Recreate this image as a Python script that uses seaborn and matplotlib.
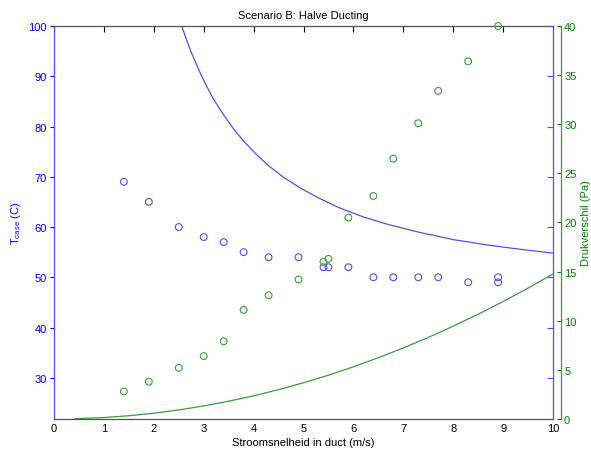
import matplotlib
matplotlib.use("Agg")
import matplotlib.pyplot as plt
import seaborn as sns
import pandas as pd

# ---- data ----
meas_speed = [1.4, 1.9, 2.5, 3.0, 3.4, 3.8, 4.3, 4.9, 5.4, 5.5, 5.9, 6.4, 6.8, 7.3, 7.7, 8.3, 8.9, 8.9]
meas_tcase = [69, 65, 60, 58, 57, 55, 54, 54, 52, 52, 52, 50, 50, 50, 50, 49, 50, 49]

druk_speed = [1.4, 1.9, 2.5, 3.0, 3.4, 3.8, 4.3, 4.9, 5.4, 5.5, 5.9, 6.4, 6.8, 7.3, 7.7, 8.3, 8.9]
druk_pa = [2.8, 3.8, 5.2, 6.4, 7.9, 11.1, 12.6, 14.2, 16.0, 16.3, 20.5, 22.7, 26.5, 30.1, 33.4, 36.4, 40.0]

model_t_speed = [2.56, 2.65, 2.75, 2.9, 3.05, 3.2, 3.4, 3.6, 3.8, 4.05, 4.3, 4.6, 4.93,
                 5.3, 5.7, 6.2, 6.7, 7.3, 8.0, 8.7, 9.4, 10.0]
model_t_value = [100.0, 97.4, 94.8, 91.3, 88.2, 85.4, 82.3, 79.5, 77.1, 74.5, 72.2, 69.9, 67.8,
                 65.8, 63.9, 62.0, 60.5, 59.0, 57.5, 56.4, 55.5, 54.8]

model_p_speed = [0.42, 1.0, 1.5, 2.0, 2.5, 3.0, 3.5, 4.0, 4.5, 5.0, 5.5, 6.0, 6.5, 7.0,
                 7.5, 8.0, 8.5, 9.0, 9.5, 10.0]
model_p_value = [0.03, 0.15, 0.33, 0.59, 0.92, 1.33, 1.81, 2.36, 2.99, 3.69, 4.46, 5.31, 6.24,
                 7.23, 8.3, 9.45, 10.66, 11.96, 13.32, 14.76]

x_ticks = list(range(0, 11))
t_ticks = list(range(30, 101, 10))
p_ticks = list(range(0, 41, 5))

BLUE_TXT = "#0000ff"
BLUE = "#5050ee"
GREEN_TXT = "#008000"
GREEN = "#3c9c3c"
AXC = "#555555"

sns.set_theme(style="white")
plt.rcParams["font.family"] = ["Liberation Sans", "DejaVu Sans"]
plt.rcParams["mathtext.fontset"] = "custom"
plt.rcParams["mathtext.rm"] = "Liberation Sans"
FS = 8

fig = plt.figure(figsize=(5.91, 4.52), dpi=100)
fig.patch.set_facecolor("white")
ax = fig.add_axes([54 / 591, 1 - 420 / 452, (553 - 54) / 591, (420 - 27) / 452])
ax3 = ax.twinx()   # inward blue ticks on right spine
ax2 = ax.twinx()   # green pressure axis

df_t = pd.DataFrame({"v": meas_speed, "t": meas_tcase})
df_p = pd.DataFrame({"v": druk_speed, "p": druk_pa})
df_mt = pd.DataFrame({"v": model_t_speed, "t": model_t_value})
df_mp = pd.DataFrame({"v": model_p_speed, "p": model_p_value})

sns.lineplot(data=df_mt, x="v", y="t", ax=ax, color=BLUE, linewidth=0.9,
             sort=False, estimator=None)
sns.scatterplot(data=df_t, x="v", y="t", ax=ax, marker="o", s=24, linewidth=0.8)
c = ax.collections[-1]
c.set_facecolor("none")
c.set_edgecolor(BLUE)

sns.lineplot(data=df_mp, x="v", y="p", ax=ax2, color=GREEN, linewidth=0.9,
             sort=False, estimator=None)
sns.scatterplot(data=df_p, x="v", y="p", ax=ax2, marker="o", s=24, linewidth=0.8)
c = ax2.collections[-1]
c.set_facecolor("none")
c.set_edgecolor(GREEN)
for coll in ax2.collections:
    coll.set_clip_on(False)

# axes limits / ticks
ax.set_xlim(0, 10)
ax.set_xticks(x_ticks)
ax.set_ylim(21.8, 100)
ax.set_yticks(t_ticks)
ax3.set_ylim(21.8, 100)
ax3.set_yticks(t_ticks)
ax3.set_yticklabels([])
ax2.set_ylim(0, 40)
ax2.set_yticks(p_ticks)

ax.tick_params(axis="x", direction="in", length=4, width=0.8, top=True,
               colors="black", labelsize=FS, pad=3)
ax.tick_params(axis="y", direction="out", length=3, width=0.8, colors=BLUE_TXT,
               labelsize=FS, pad=2, right=False)
ax3.tick_params(axis="y", direction="in", length=4, width=0.8, colors=BLUE,
                right=True, labelright=False)
ax2.tick_params(axis="y", direction="in", length=3, width=0.8, colors=GREEN_TXT,
                labelsize=FS, pad=2)

for a in (ax, ax2, ax3):
    for s in a.spines.values():
        s.set_visible(False)
ax.spines["bottom"].set_visible(True)
ax.spines["top"].set_visible(True)
ax.spines["bottom"].set_color(AXC)
ax.spines["top"].set_color(AXC)
ax.spines["left"].set_visible(True)
ax.spines["left"].set_color(BLUE)
ax3.spines["right"].set_visible(True)
ax3.spines["right"].set_color(BLUE)
ax2.spines["right"].set_visible(True)
ax2.spines["right"].set_color(GREEN)
ax2.spines["right"].set_position(("outward", 6))
for a in (ax, ax2, ax3):
    for s in a.spines.values():
        s.set_linewidth(0.9)

ax.set_title("Scenario B: Halve Ducting", fontsize=FS, color="black", pad=6)
ax.set_xlabel("Stroomsnelheid in duct (m/s)", fontsize=FS, color="black", labelpad=3)
ax.set_ylabel(r"T$_{\mathrm{case}}$ (C)", fontsize=FS, color=BLUE_TXT, labelpad=4)
ax2.set_ylabel("Drukverschil (Pa)", fontsize=FS, color=GREEN_TXT, labelpad=3)
ax3.set_ylabel("")

fig.savefig("out.png", dpi=100, facecolor="white")
